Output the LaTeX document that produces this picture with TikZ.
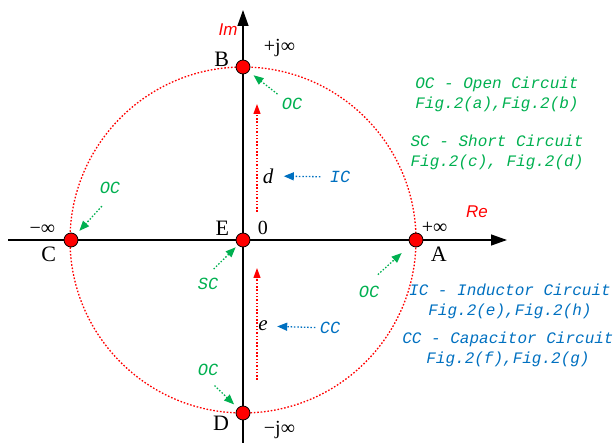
\documentclass[tikz,border=0pt]{standalone}
\usepackage{fontspec}
\setmainfont{Liberation Serif}
\setsansfont{Liberation Sans}
\setmonofont{Liberation Mono}
\usepackage{xcolor}
\usepackage{tikz}
\usetikzlibrary{arrows.meta,positioning,calc}

\definecolor{ocgreen}{RGB}{0,176,80}
\definecolor{icblue}{RGB}{0,112,192}

\begin{document}
\begin{tikzpicture}[
    x=1pt, y=-1pt,
    pnt/.style={circle, draw, line width=0.8pt, fill=red, minimum size=14pt, inner sep=0pt},
    axis/.style={-{Triangle[length=16pt, width=11pt]}, line width=1.3pt},
    ring/.style={red, dash pattern=on 1.6pt off 1.8pt, line width=1.3pt},
    letter/.style={font=\fontsize{22}{22}\selectfont},
    infty/.style={font=\fontsize{20}{20}\selectfont},
    axname/.style={red, font=\sffamily\itshape\fontsize{17}{17}\selectfont},
    var/.style={font=\itshape\fontsize{21}{21}\selectfont},
    tag/.style={font=\ttfamily\itshape\fontsize{17}{17}\selectfont},
    legend/.style={font=\ttfamily\itshape\fontsize{16}{20}\selectfont, align=center},
    garrow/.style={-{Triangle[length=10pt, width=8pt]}, ocgreen, dash pattern=on 1.5pt off 1.8pt, line width=1.3pt},
    barrow/.style={-{Triangle[length=10pt, width=8pt]}, icblue, dash pattern=on 1.5pt off 1.8pt, line width=1.3pt},
    uparrow/.style={-{Triangle[length=10pt, width=7pt]}, red, dash pattern=on 1.5pt off 1.8pt, line width=1.2pt}
]
    \useasboundingbox (0,0) rectangle (616,443);

    % axes and circle
    \coordinate (O) at (243,240);
    \coordinate (xL) at (8,240);
    \coordinate (xR) at (507,240);
    \coordinate (yB) at (243,443);
    \coordinate (yT) at (243,10);
    \draw[ring] (O) circle (173pt);
    \draw[axis] (xL) -- (xR);
    \draw[axis] (yB) -- (yT);
    \node[axname] (im) at (228,30) {Im};
    \node[axname] (re) at (477,212) {Re};

    % points
    \node[pnt] (A) at (416,240) {};
    \node[pnt] (B) at (243,67) {};
    \node[pnt] (C) at (71,240) {};
    \node[pnt] (D) at (243,413) {};
    \node[pnt] (E) at (243,240) {};

    \node[letter, left=3pt of B, yshift=8pt] (Bl) {B};
    \node[infty, right=10pt of B, yshift=19pt] (Bv) {+j∞};
    \node[letter, left=3pt of E, yshift=12pt] (El) {E};
    \node[infty, right=4pt of E, yshift=12pt] (Ev) {0};
    \node[letter, left=3pt of D, yshift=-10pt] (Dl) {D};
    \node[infty, right=10pt of D, yshift=-17pt] (Dv) {−j∞};
    \node[letter, right=4pt of A, yshift=-14pt] (Al) {A};
    \node[infty, right=-5pt of A, yshift=12pt] (Av) {+∞};
    \node[letter, left=4pt of C, yshift=-14pt] (Cl) {C};
    \node[infty, left=5pt of C, yshift=10pt] (Cv) {−∞};

    % moves along the imaginary axis
    \coordinate (dBot) at (257,212);
    \coordinate (dTop) at (257,104);
    \coordinate (eBot) at (257,380);
    \coordinate (eTop) at (257,268);
    \draw[uparrow] (dBot) -- (dTop);
    \draw[uparrow] (eBot) -- (eTop);
    \node[var] (d) at (268,176) {d};
    \node[tag, icblue] (ic) at (340,177) {IC};
    \draw[barrow, shorten <=6pt, shorten >=7pt] (ic) -- (d);
    \node[var] (e) at (263,326) {e};
    \node[tag, icblue] (cc) at (330,328) {CC};
    \draw[barrow, shorten <=1pt, shorten >=6pt] (cc) -- (e);

    % open / short circuit marks
    \node[tag, ocgreen] (ocB) at (292,104) {OC};
    \draw[garrow, shorten <=1pt, shorten >=6pt] (ocB.north west) -- (B);
    \node[tag, ocgreen] (ocC) at (110,188) {OC};
    \draw[garrow, shorten <=12pt, shorten >=5pt] (ocC.south) -- (C);
    \node[tag, ocgreen] (scE) at (208,284) {SC};
    \draw[garrow, shorten <=8pt, shorten >=3pt] (scE.north) -- (E);
    \node[tag, ocgreen] (ocA) at (369,292) {OC};
    \draw[garrow, shorten <=12pt, shorten >=12pt] (ocA.north) -- (A);
    \node[tag, ocgreen] (ocD) at (208,370) {OC};
    \draw[garrow, shorten <=9pt, shorten >=5pt] (ocD.south) -- (D);

    % legend
    \node[legend, ocgreen] (ocleg) at (497,94) {OC - Open Circuit\\Fig.2(a),Fig.2(b)};
    \node[legend, ocgreen] (scleg) at (497,152) {SC - Short Circuit\\Fig.2(c), Fig.2(d)};
    \node[legend, icblue] (icleg) at (510,301) {IC - Inductor Circuit\\Fig.2(e),Fig.2(h)};
    \node[legend, icblue] (ccleg) at (508,349) {CC - Capacitor Circuit\\Fig.2(f),Fig.2(g)};
\end{tikzpicture}
\end{document}
